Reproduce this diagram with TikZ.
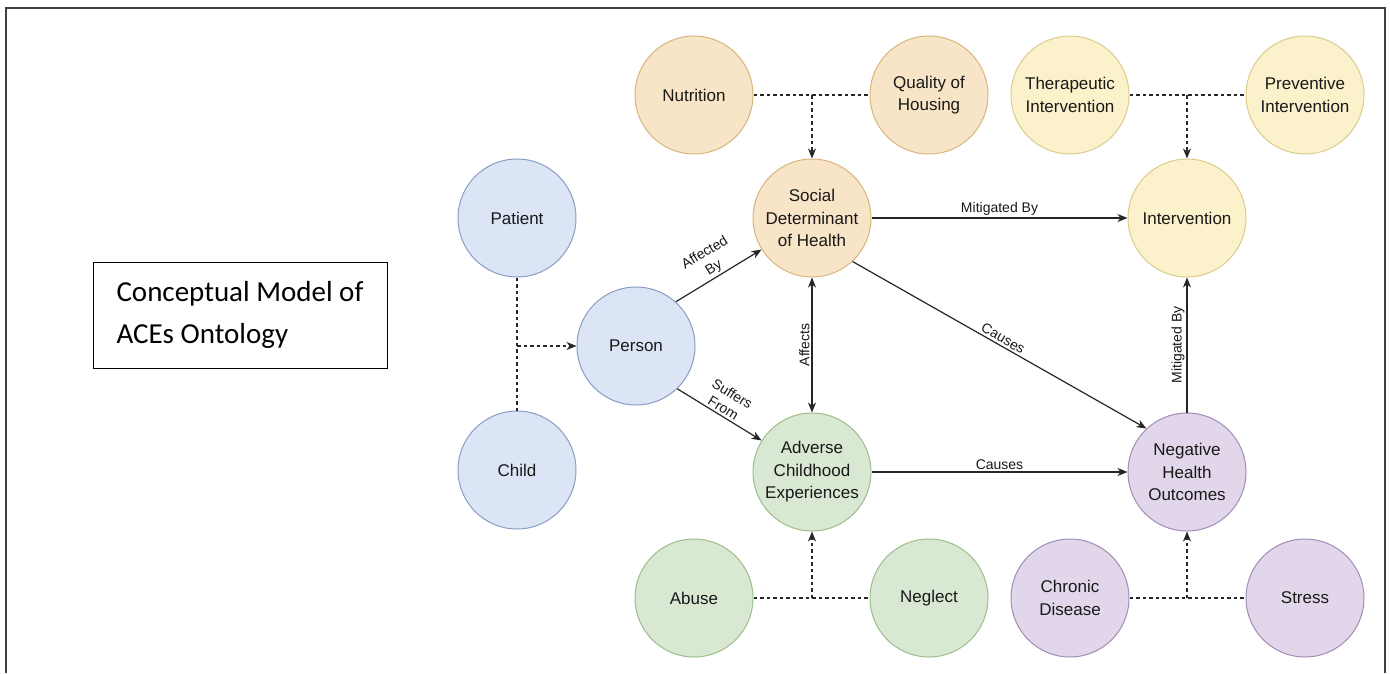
\documentclass[tikz,border=0pt]{standalone}
\usepackage{fontspec}
\setmainfont{Liberation Sans}
\newfontfamily\titlefont{Carlito}
\usetikzlibrary{arrows.meta}

\definecolor{bluefill}{HTML}{DBE5F6}
\definecolor{bluedraw}{HTML}{8A9EC2}
\definecolor{orangefill}{HTML}{F8E4C6}
\definecolor{orangedraw}{HTML}{D8B57E}
\definecolor{yellowfill}{HTML}{FBF1CA}
\definecolor{yellowdraw}{HTML}{DCCB8E}
\definecolor{greenfill}{HTML}{D9E8D2}
\definecolor{greendraw}{HTML}{9DBE8C}
\definecolor{purplefill}{HTML}{E2D7EA}
\definecolor{purpledraw}{HTML}{A28CB5}

\begin{document}
\begin{tikzpicture}[x=1pt,y=-1pt,>={Stealth[length=10pt,width=8pt,inset=3pt]},
  concept/.style={circle,draw,line width=1pt,minimum size=118pt,inner sep=0pt,
    align=center,text=black!90,font=\fontsize{17}{22.5}\selectfont},
  blueconcept/.style={concept,fill=bluefill,draw=bluedraw},
  orangeconcept/.style={concept,fill=orangefill,draw=orangedraw},
  yellowconcept/.style={concept,fill=yellowfill,draw=yellowdraw},
  greenconcept/.style={concept,fill=greenfill,draw=greendraw},
  purpleconcept/.style={concept,fill=purplefill,draw=purpledraw},
  relation/.style={line width=1.2pt,black!85},
  subclass/.style={relation,dash pattern=on 3.5pt off 3pt},
  rellabel/.style={font=\fontsize{14}{17}\selectfont,text=black!90,align=center,inner sep=2pt}]
  \useasboundingbox (0,0) rectangle (1390,673);

  % page frame and title box
  \draw[line width=2pt,black!75] (6,673) -- (6,8) -- (1385,8) -- (1385,673);
  \node[draw,line width=1pt,minimum width=294pt,minimum height=106pt,
    align=left,font=\titlefont\fontsize{29}{42}\selectfont] (title) at (240,315)
    {Conceptual Model of\\ACEs Ontology};

  % concepts
  \node[orangeconcept] (nut) at (694,95) {Nutrition};
  \node[orangeconcept] (qua) at (929,95) {Quality of\\Housing};
  \node[yellowconcept] (the) at (1070,95) {Therapeutic\\Intervention};
  \node[yellowconcept] (pre) at (1305,95) {Preventive\\Intervention};
  \node[blueconcept] (pat) at (517,218) {Patient};
  \node[orangeconcept] (sdh) at (812,218) {Social\\Determinant\\of Health};
  \node[yellowconcept] (int) at (1187,218) {Intervention};
  \node[blueconcept] (per) at (636,346) {Person};
  \node[blueconcept] (chi) at (517,470) {Child};
  \node[greenconcept] (ace) at (812,472) {Adverse\\Childhood\\Experiences};
  \node[purpleconcept] (nho) at (1187,472) {Negative\\Health\\Outcomes};
  \node[greenconcept] (abu) at (694,598) {Abuse};
  \node[greenconcept] (neg) at (929,598) {Neglect};
  \node[purpleconcept] (chr) at (1070,598) {Chronic\\Disease};
  \node[purpleconcept] (str) at (1305,598) {Stress};

  % subclass links
  \draw[subclass] (pat) -- (chi);
  \draw[subclass,->] (pat |- per) -- (per);
  \draw[subclass] (nut) -- (qua);
  \draw[subclass,->] (nut -| sdh) -- (sdh);
  \draw[subclass] (the) -- (pre);
  \draw[subclass,->] (the -| int) -- (int);
  \draw[subclass] (abu) -- (neg);
  \draw[subclass,->] (abu -| ace) -- (ace);
  \draw[subclass] (chr) -- (str);
  \draw[subclass,->] (chr -| nho) -- (nho);

  % relations
  \draw[relation,->] (per.48) -- (sdh.212)
    node[rellabel,midway,sloped,above] {Affected\\By};
  \draw[relation,->] (per.-46) -- (ace.148)
    node[rellabel,midway,sloped,above] {Suffers\\From};
  \draw[relation,<->] (ace) -- (sdh)
    node[rellabel,midway,sloped,above] {Affects};
  \draw[relation,->] (sdh) -- (int)
    node[rellabel,midway,above] {Mitigated By};
  \draw[relation,->] (sdh.-47) -- (nho.133)
    node[rellabel,midway,sloped,above] {Causes};
  \draw[relation,->] (ace) -- (nho)
    node[rellabel,midway,above] {Causes};
  \draw[relation,->] (nho) -- (int)
    node[rellabel,midway,sloped,above] {Mitigated By};
\end{tikzpicture}
\end{document}
